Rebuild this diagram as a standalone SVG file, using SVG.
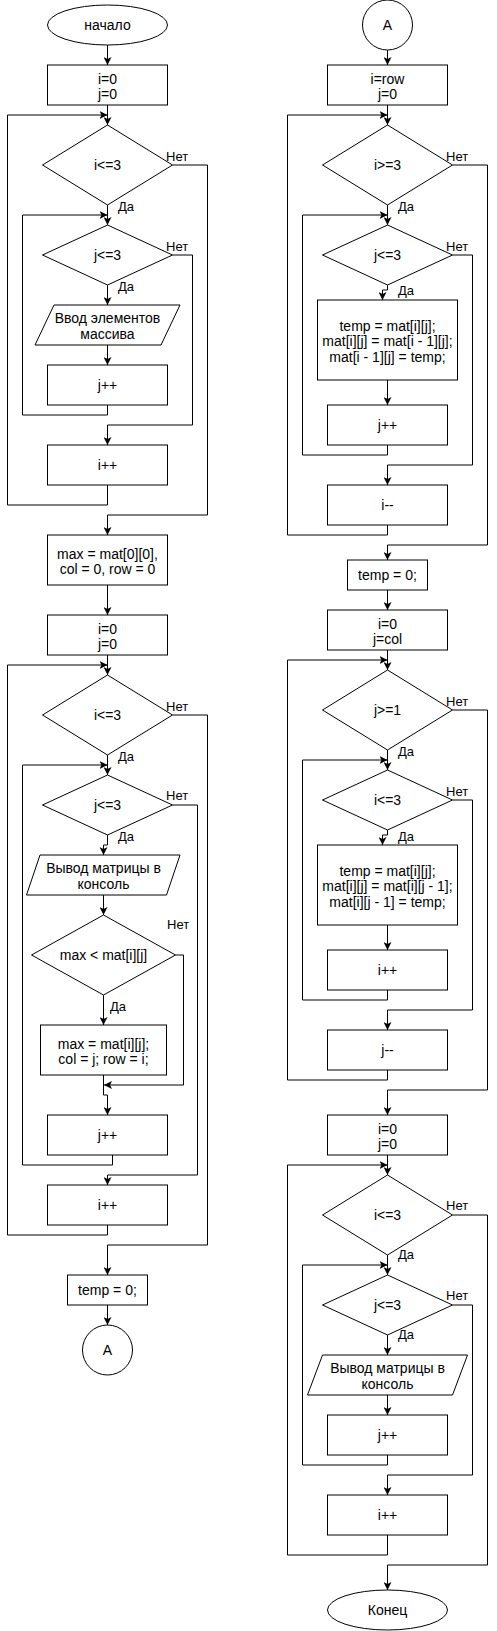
<svg xmlns="http://www.w3.org/2000/svg" width="497" height="1631" viewBox="0 0 497 1631">
<defs>
<style>
.s{fill:#fff;stroke:#000;stroke-width:1}
.t{font-family:"Liberation Sans",Arial,Helvetica,sans-serif;font-size:14px;fill:#000;text-anchor:middle}
.l{font-family:"Liberation Sans",Arial,Helvetica,sans-serif;font-size:13px;fill:#000}
.c{fill:none;stroke:#000;stroke-width:1;marker-end:url(#a)}
</style>
<marker id="a" markerUnits="userSpaceOnUse" viewBox="0 0 8 8" markerWidth="8" markerHeight="8" refX="8" refY="4" orient="auto">
<path d="M0,0 L8,4 L0,8 L2,4 z" fill="#000"/>
</marker>
</defs>
<rect width="497" height="1631" fill="#fff"/>
<g id="connectors">
<path class="c" d="M107.5,45 V65"/>
<path class="c" d="M107.5,105 V125"/>
<path class="c" d="M107.5,205 V225"/>
<path class="c" d="M107.5,285 V305"/>
<path class="c" d="M107.5,345 V365"/>
<path class="c" d="M107.5,405 V415 H22.5 V215 H107.5"/>
<path class="c" d="M172.5,255 H192.5 V425 H107.5 V445"/>
<path class="c" d="M107.5,485 V505 H7.5 V115 H107.5"/>
<path class="c" d="M172.5,165 H207.5 V515 H107.5 V535"/>
<path class="c" d="M107.5,585 V615"/>
<path class="c" d="M107.5,655 V675"/>
<path class="c" d="M107.5,755 V775"/>
<path class="c" d="M107.5,835 V845 H103.5 V855"/>
<path class="c" d="M103.5,895 V915"/>
<path class="c" d="M103.5,995 V1025"/>
<path class="c" d="M103.5,1075 V1095 H107.5 V1115"/>
<path class="c" d="M175.5,955 H183.5 V1085 H104"/>
<path class="c" d="M112.5,1155 V1165 H22.5 V765 H107.5"/>
<path class="c" d="M172.5,805 H197.5 V1175 H107.5 V1185"/>
<path class="c" d="M107.5,1225 V1235 H7.5 V665 H107.5"/>
<path class="c" d="M172.5,715 H207.5 V1245 H107.5 V1275"/>
<path class="c" d="M107.5,1305 V1325"/>
<path class="c" d="M387.5,50 V65"/>
<path class="c" d="M387.5,105 V125"/>
<path class="c" d="M387.5,205 V225"/>
<path class="c" d="M387.5,285 V290 H382.5 V300"/>
<path class="c" d="M387.5,380 V405"/>
<path class="c" d="M387.5,445 V455 H302.5 V215 H387.5"/>
<path class="c" d="M452.5,255 H472.5 V465 H387.5 V485"/>
<path class="c" d="M387.5,525 V535 H287.5 V115 H387.5"/>
<path class="c" d="M452.5,165 H487.5 V545 H387.5 V560"/>
<path class="c" d="M387.5,590 V610"/>
<path class="c" d="M387.5,650 V670"/>
<path class="c" d="M387.5,750 V770"/>
<path class="c" d="M387.5,830 V835 H382.5 V845"/>
<path class="c" d="M387.5,925 V950"/>
<path class="c" d="M387.5,990 V1000 H302.5 V760 H387.5"/>
<path class="c" d="M452.5,800 H472.5 V1010 H387.5 V1030"/>
<path class="c" d="M387.5,1070 V1080 H287.5 V660 H387.5"/>
<path class="c" d="M452.5,710 H487.5 V1090 H387.5 V1115"/>
<path class="c" d="M387.5,1155 V1175"/>
<path class="c" d="M387.5,1255 V1275"/>
<path class="c" d="M387.5,1335 V1355"/>
<path class="c" d="M387.5,1395 V1415"/>
<path class="c" d="M387.5,1455 V1465 H302.5 V1265 H387.5"/>
<path class="c" d="M452.5,1305 H472.5 V1475 H387.5 V1495"/>
<path class="c" d="M387.5,1535 V1555 H287.5 V1165 H387.5"/>
<path class="c" d="M452.5,1215 H487.5 V1565 H387.5 V1590"/>
</g>
<g id="labels">
<text class="l" x="166" y="161">Нет</text>
<text class="l" x="118" y="211">Да</text>
<text class="l" x="166" y="251">Нет</text>
<text class="l" x="118" y="291">Да</text>
<text class="l" x="166" y="711">Нет</text>
<text class="l" x="118" y="761">Да</text>
<text class="l" x="166" y="800">Нет</text>
<text class="l" x="118" y="841">Да</text>
<text class="l" x="167" y="929">Нет</text>
<text class="l" x="110" y="1011">Да</text>
<text class="l" x="446" y="161">Нет</text>
<text class="l" x="398" y="211">Да</text>
<text class="l" x="446" y="251">Нет</text>
<text class="l" x="398" y="295">Да</text>
<text class="l" x="446" y="706">Нет</text>
<text class="l" x="398" y="756">Да</text>
<text class="l" x="446" y="796">Нет</text>
<text class="l" x="398" y="841">Да</text>
<text class="l" x="446" y="1210">Нет</text>
<text class="l" x="398" y="1259">Да</text>
<text class="l" x="446" y="1300">Нет</text>
<text class="l" x="398" y="1339">Да</text>
</g>
<g id="start"><ellipse class="s" cx="107.5" cy="25" rx="60" ry="20"/><text class="t" x="107.5" y="30">начало</text></g>
<g id="init1"><rect class="s" x="47.5" y="65" width="120" height="40"/><text class="t" x="107.5" y="83.5">i=0</text><text class="t" x="107.5" y="99">j=0</text></g>
<g id="cond1"><polygon class="s" points="107.5,125 172.5,165 107.5,205 42.5,165"/><text class="t" x="107.5" y="170">i&lt;=3</text></g>
<g id="cond2"><polygon class="s" points="107.5,225 172.5,255 107.5,285 42.5,255"/><text class="t" x="107.5" y="260">j&lt;=3</text></g>
<g id="input"><polygon class="s" points="54,305 180,305 161,345 35,345"/><text class="t" x="107.5" y="323">Ввод элементов</text><text class="t" x="107.5" y="338.5">массива</text></g>
<g id="jinc1"><rect class="s" x="47.5" y="365" width="120" height="40"/><text class="t" x="107.5" y="390">j++</text></g>
<g id="iinc1"><rect class="s" x="47.5" y="445" width="120" height="40"/><text class="t" x="107.5" y="470">i++</text></g>
<g id="maxinit"><rect class="s" x="47.5" y="535" width="120" height="50"/><text class="t" x="107.5" y="558.5">max = mat[0][0],</text><text class="t" x="107.5" y="574">col = 0, row = 0</text></g>
<g id="init2"><rect class="s" x="47.5" y="615" width="120" height="40"/><text class="t" x="107.5" y="633.5">i=0</text><text class="t" x="107.5" y="649">j=0</text></g>
<g id="cond3"><polygon class="s" points="107.5,675 172.5,715 107.5,755 42.5,715"/><text class="t" x="107.5" y="720">i&lt;=3</text></g>
<g id="cond4"><polygon class="s" points="107.5,775 172.5,805 107.5,835 42.5,805"/><text class="t" x="107.5" y="810">j&lt;=3</text></g>
<g id="output1"><polygon class="s" points="40,855 180,855 166.5,895 26.5,895"/><text class="t" x="103.5" y="873">Вывод матрицы в</text><text class="t" x="103.5" y="888.5">консоль</text></g>
<g id="cond5"><polygon class="s" points="103.5,915 175.5,955 103.5,995 31.5,955"/><text class="t" x="103.5" y="960">max &lt; mat[i][j]</text></g>
<g id="maxupd"><rect class="s" x="40.5" y="1025" width="126" height="50"/><text class="t" x="103.5" y="1048.5">max = mat[i][j];</text><text class="t" x="103.5" y="1064">col = j; row = i;</text></g>
<g id="jinc2"><rect class="s" x="47.5" y="1115" width="120" height="40"/><text class="t" x="107.5" y="1140">j++</text></g>
<g id="iinc2"><rect class="s" x="47.5" y="1185" width="120" height="40"/><text class="t" x="107.5" y="1210">i++</text></g>
<g id="temp1"><rect class="s" x="67.5" y="1275" width="80" height="30"/><text class="t" x="107.5" y="1295">temp = 0;</text></g>
<g id="connA1"><circle class="s" cx="107.5" cy="1350" r="25"/><text class="t" x="107.5" y="1355">A</text></g>
<g id="connA2"><circle class="s" cx="387.5" cy="25" r="25"/><text class="t" x="387.5" y="30">A</text></g>
<g id="init3"><rect class="s" x="327.5" y="65" width="120" height="40"/><text class="t" x="387.5" y="83.5">i=row</text><text class="t" x="387.5" y="99">j=0</text></g>
<g id="cond6"><polygon class="s" points="387.5,125 452.5,165 387.5,205 322.5,165"/><text class="t" x="387.5" y="170">i&gt;=3</text></g>
<g id="cond7"><polygon class="s" points="387.5,225 452.5,255 387.5,285 322.5,255"/><text class="t" x="387.5" y="260">j&lt;=3</text></g>
<g id="swap1"><rect class="s" x="317.5" y="300" width="140" height="80"/><text class="t" x="387.5" y="330.5">temp = mat[i][j];</text><text class="t" x="387.5" y="346">mat[i][j] = mat[i - 1][j];</text><text class="t" x="387.5" y="361.5">mat[i - 1][j] = temp;</text></g>
<g id="jinc3"><rect class="s" x="327.5" y="405" width="120" height="40"/><text class="t" x="387.5" y="430">j++</text></g>
<g id="idec"><rect class="s" x="327.5" y="485" width="120" height="40"/><text class="t" x="387.5" y="510">i--</text></g>
<g id="temp2"><rect class="s" x="347.5" y="560" width="80" height="30"/><text class="t" x="387.5" y="580">temp = 0;</text></g>
<g id="init4"><rect class="s" x="327.5" y="610" width="120" height="40"/><text class="t" x="387.5" y="628.5">i=0</text><text class="t" x="387.5" y="644">j=col</text></g>
<g id="cond8"><polygon class="s" points="387.5,670 452.5,710 387.5,750 322.5,710"/><text class="t" x="387.5" y="715">j&gt;=1</text></g>
<g id="cond9"><polygon class="s" points="387.5,770 452.5,800 387.5,830 322.5,800"/><text class="t" x="387.5" y="805">i&lt;=3</text></g>
<g id="swap2"><rect class="s" x="317.5" y="845" width="140" height="80"/><text class="t" x="387.5" y="875.5">temp = mat[i][j];</text><text class="t" x="387.5" y="891">mat[i][j] = mat[i][j - 1];</text><text class="t" x="387.5" y="906.5">mat[i][j - 1] = temp;</text></g>
<g id="iinc3"><rect class="s" x="327.5" y="950" width="120" height="40"/><text class="t" x="387.5" y="975">i++</text></g>
<g id="jdec"><rect class="s" x="327.5" y="1030" width="120" height="40"/><text class="t" x="387.5" y="1055">j--</text></g>
<g id="init5"><rect class="s" x="327.5" y="1115" width="120" height="40"/><text class="t" x="387.5" y="1133.5">i=0</text><text class="t" x="387.5" y="1149">j=0</text></g>
<g id="cond10"><polygon class="s" points="387.5,1175 452.5,1215 387.5,1255 322.5,1215"/><text class="t" x="387.5" y="1220">i&lt;=3</text></g>
<g id="cond11"><polygon class="s" points="387.5,1275 452.5,1305 387.5,1335 322.5,1305"/><text class="t" x="387.5" y="1310">j&lt;=3</text></g>
<g id="output2"><polygon class="s" points="322.5,1355 467.5,1355 452.5,1395 307.5,1395"/><text class="t" x="387.5" y="1373">Вывод матрицы в</text><text class="t" x="387.5" y="1388.5">консоль</text></g>
<g id="jinc4"><rect class="s" x="327.5" y="1415" width="120" height="40"/><text class="t" x="387.5" y="1440">j++</text></g>
<g id="iinc4"><rect class="s" x="327.5" y="1495" width="120" height="40"/><text class="t" x="387.5" y="1520">i++</text></g>
<g id="end"><ellipse class="s" cx="387.5" cy="1610" rx="60" ry="20"/><text class="t" x="387.5" y="1615">Конец</text></g>
</svg>
